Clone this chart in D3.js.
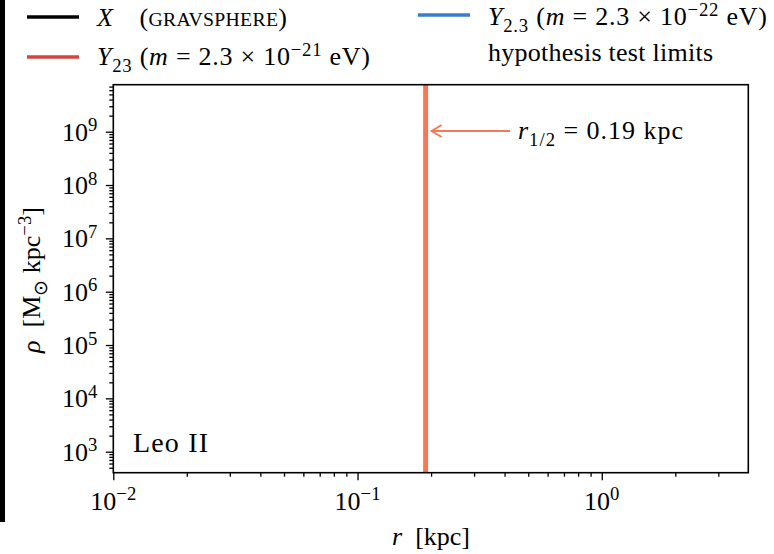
<!DOCTYPE html>
<html><head><meta charset="utf-8">
<script src="https://cdn.jsdelivr.net/npm/d3@7"></script>
<style>
body{margin:0;background:#fff;}
svg{display:block;font-family:"Liberation Serif","Times New Roman",serif;}
</style></head>
<body><svg id="c" width="774" height="554"></svg>
<script>
// ---- data ----
const xDomain = [0.01, 3.98];
const yDomain = [Math.pow(10, 2.606), Math.pow(10, 9.881)];
const xMajorTicks = [0.01, 0.1, 1];
const xTickExponents = ["\u22122", "\u22121", "0"];
const yMajorTicks = [1e3, 1e4, 1e5, 1e6, 1e7, 1e8, 1e9];
const yTickExponents = ["3", "4", "5", "6", "7", "8", "9"];
const rHalf = 0.19;              // kpc
const galaxyName = "Leo II";
const legendNames = ["X", "Y23", "Y2.3", "hypothesis test limits"];
const legendColors = ["#000000", "#d6453a", "#3a7dcf", null];
const rHalfColor = "#f47a55";

// ---- layout ----
const svg = d3.select("#c");
const L = 113.3, R = 748.3, T = 84.7, B = 472.7;
const x = d3.scaleLog().domain(xDomain).range([L, R]);
const y = d3.scaleLog().domain(yDomain).range([B, T]);
const FS = 26;

// left black bar artifact
svg.append("rect").attr("x", 0).attr("y", 0).attr("width", 5).attr("height", 522).attr("fill", "#000");

// rich text helper
function rich(sel, parts, fs) {
  let shift = 0;
  parts.forEach(p => {
    const ts = sel.append("tspan").text(p.t);
    let target = 0, size = fs;
    if (p.sub) { target = fs * 0.25; size = fs * 0.72; }
    if (p.sup) { target = -fs * 0.36; size = fs * 0.72; }
    ts.attr("dy", target - shift).attr("font-size", size);
    shift = target;
    if (p.it) ts.attr("font-style", "italic");
    if (p.sc) ts.attr("font-size", fs * 0.76);
  });
  return sel;
}

// minor tick values
function minors(dom) {
  const out = [];
  const lo = Math.floor(Math.log10(dom[0])), hi = Math.ceil(Math.log10(dom[1]));
  for (let e = lo; e <= hi; e++) for (let k = 2; k <= 9; k++) {
    const v = k * Math.pow(10, e);
    if (v >= dom[0] && v <= dom[1]) out.push(v);
  }
  return out;
}

// vertical r_1/2 line
svg.append("line").attr("x1", x(rHalf)).attr("x2", x(rHalf)).attr("y1", T).attr("y2", B)
  .attr("stroke", rHalfColor).attr("stroke-width", 5);

// axes
const xAxisMajor = d3.axisBottom(x).tickValues(xMajorTicks).tickSize(7.5).tickFormat("");
const xAxisMinor = d3.axisBottom(x).tickValues(minors(xDomain)).tickSize(4).tickFormat("");
const yAxisMajor = d3.axisLeft(y).tickValues(yMajorTicks).tickSize(7.5).tickFormat("");
const yAxisMinor = d3.axisLeft(y).tickValues(minors(yDomain)).tickSize(4).tickFormat("");
[xAxisMajor, xAxisMinor].forEach(a => {
  const g = svg.append("g").attr("transform", `translate(0,${B})`).call(a);
  g.select(".domain").remove();
  g.selectAll("line").attr("stroke", "#000").attr("stroke-width", 1.3);
});
[yAxisMajor, yAxisMinor].forEach(a => {
  const g = svg.append("g").attr("transform", `translate(${L},0)`).call(a);
  g.select(".domain").remove();
  g.selectAll("line").attr("stroke", "#000").attr("stroke-width", 1.3);
});
// frame
svg.append("rect").attr("x", L).attr("y", T).attr("width", R - L).attr("height", B - T)
  .attr("fill", "none").attr("stroke", "#000").attr("stroke-width", 1.6);

// tick labels
xMajorTicks.forEach((v, i) => {
  const t = svg.append("text").attr("x", x(v)).attr("y", B + 37).attr("text-anchor", "middle").attr("font-size", FS);
  rich(t, [{t: "10"}, {t: xTickExponents[i], sup: true}], FS);
});
yMajorTicks.forEach((v, i) => {
  const t = svg.append("text").attr("x", L - 16).attr("y", y(v) + 9).attr("text-anchor", "end").attr("font-size", FS);
  rich(t, [{t: "10"}, {t: yTickExponents[i], sup: true}], FS);
});

// axis labels
const xl = svg.append("text").attr("x", 431).attr("y", 545).attr("text-anchor", "middle").attr("font-size", FS);
rich(xl, [{t: "r", it: true}, {t: "\u2002[kpc]"}], FS);
const yl = svg.append("text").attr("transform", "translate(40,280) rotate(-90)").attr("text-anchor", "middle").attr("font-size", FS);
rich(yl, [{t: "\u03C1", it: true}, {t: "\u2002[M"}, {t: "\u2299", sub: true}, {t: " kpc"}, {t: "\u22123", sup: true}, {t: "]"}], FS);

// galaxy name
svg.append("text").attr("x", 133).attr("y", 452).attr("font-size", 28).attr("textLength", 75).text(galaxyName);

// r_1/2 annotation arrow
const ay = 131, ax0 = x(rHalf) + 6, ax1 = 510;
svg.append("line").attr("x1", ax1).attr("x2", ax0).attr("y1", ay).attr("y2", ay)
  .attr("stroke", rHalfColor).attr("stroke-width", 2);
svg.append("path").attr("d", `M${ax0 + 10},${ay - 6}L${ax0},${ay}L${ax0 + 10},${ay + 6}`)
  .attr("fill", "none").attr("stroke", rHalfColor).attr("stroke-width", 2);
const at = svg.append("text").attr("x", 518).attr("y", 139).attr("font-size", FS).attr("textLength", 165);
rich(at, [{t: "r", it: true}, {t: "1/2", sub: true}, {t: " = 0.19 kpc"}], FS);

// legend
const leg = [
  {lx: 27, ly: 17, tx: 97, ty: 26, w: 190, parts: [{t: "X", it: true}, {t: "\u2003("}, {t: "GRAVSPHERE", sc: true}, {t: ")"}]},
  {lx: 27, ly: 57, tx: 97, ty: 65, w: 273, parts: [{t: "Y", it: true}, {t: "23", sub: true}, {t: " ("}, {t: "m", it: true}, {t: " = 2.3 \u00D7 10"}, {t: "\u221221", sup: true}, {t: " eV)"}]},
  {lx: 418, ly: 15, tx: 488, ty: 25, w: 279, parts: [{t: "Y", it: true}, {t: "2.3", sub: true}, {t: " ("}, {t: "m", it: true}, {t: " = 2.3 \u00D7 10"}, {t: "\u221222", sup: true}, {t: " eV)"}]},
  {lx: 418, ly: 52, tx: 488, ty: 61, w: 225, parts: [{t: "hypothesis test limits"}]}
];
leg.forEach((d, i) => {
  if (legendColors[i]) svg.append("line").attr("x1", d.lx).attr("x2", d.lx + 52).attr("y1", d.ly).attr("y2", d.ly)
    .attr("stroke", legendColors[i]).attr("stroke-width", 3.5);
  const t = svg.append("text").attr("x", d.tx).attr("y", d.ty).attr("font-size", FS)
    .attr("textLength", d.w).attr("data-name", legendNames[i]);
  rich(t, d.parts, FS);
});
</script></body></html>
